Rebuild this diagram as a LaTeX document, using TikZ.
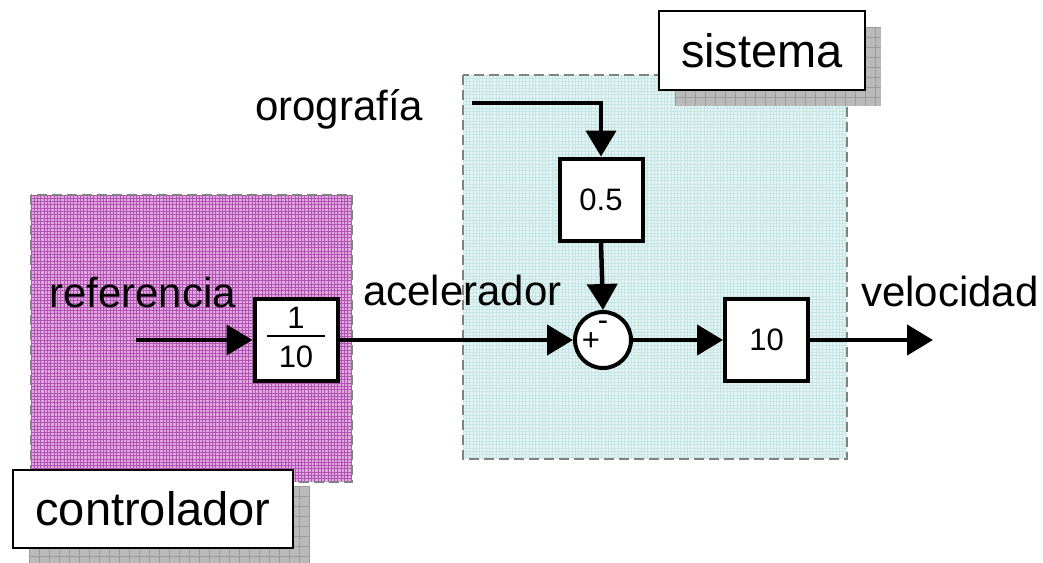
\documentclass[tikz,border=0pt]{standalone}
\usepackage{fontspec}
\setmainfont{Liberation Sans}
\usetikzlibrary{arrows.meta}
\definecolor{ctrlfill}{RGB}{224,170,224}
\definecolor{ctrlline}{RGB}{178,82,178}
\definecolor{sysfill}{RGB}{228,244,244}
\definecolor{sysline}{RGB}{198,229,229}
\definecolor{shadowgray}{RGB}{186,186,186}
\definecolor{shadowline}{RGB}{155,155,155}
\definecolor{framegray}{RGB}{130,130,130}
\newcommand\fsz[1]{\fontsize{#1pt}{#1pt}\selectfont}

\begin{document}
\begin{tikzpicture}[x=1pt,y=-1pt,
  region/.style={draw=framegray, line width=2pt, dash pattern=on 10pt off 5pt},
  block/.style={draw, line width=4pt, fill=white, inner sep=0pt,
    minimum width=83pt, minimum height=82pt, font=\fsz{31}},
  tag/.style={draw, line width=2pt, fill=white, inner sep=0pt, font=\fsz{47}},
  sig/.style={line width=4.5pt, -{Triangle[length=26pt,width=30pt]}},
  lbl/.style={inner sep=0pt, anchor=base west, font=\fsz{42}},
  sign/.style={inner sep=0pt, font=\fsz{31}},
  shade/.style={fill=shadowgray},
  shadegrid/.style={draw=shadowline, line width=0.6pt, step=10pt},
]
\useasboundingbox (0,0) rectangle (1043,562);

% shaded areas of the two subsystems, with a fine woven texture
\fill[ctrlfill] (31,195) rectangle (352,482);
\draw[ctrlline, line width=0.9pt, step=3.3pt, shift={(31,195)}] (0,0) grid (321,287);
\fill[sysfill] (463,75) rectangle (847,459);
\draw[sysline, line width=0.8pt, step=3.3pt, shift={(463,75)}] (0,0) grid (384,384);

% signal labels
\node[lbl] (tref) at (49,307) {referencia};
\node[lbl] (tacc) at (363,305) {acelerador};
\node[lbl] (toro) at (255,120) {orografía};
\node[lbl] (tvel) at (861,306) {velocidad};

% dashed frames
\draw[region] (31,195) rectangle (352,482);
\draw[region] (463,75) rectangle (847,459);

% drop shadows of the subsystem tags
\fill[shade] (29,486) rectangle (309,564);
\draw[shadegrid, shift={(29,486)}] (0,0) grid (280,78);
\fill[shade] (675,27) rectangle (881,106);
\draw[shadegrid, shift={(675,27)}] (0,0) grid (206,79);

% subsystem tags
\node[tag, minimum width=280pt, minimum height=78pt] (ctl) at (153,509) {controlador};
\node[tag, minimum width=206pt, minimum height=79pt] (sys) at (762,50.5) {sistema};

% blocks
\node[block] (kc) at (296,340) {};
\node[sign] (knum) at (296,318) {1};
\node[sign] (kden) at (296,357) {10};
\draw[line width=1.5pt] ([xshift=-29pt]kc.center) ++(0,-4) -- ++(58,0);

\node[block] (g05) at (601,199.5) {0.5};
\node[circle, draw, line width=4pt, fill=white, minimum size=56pt, inner sep=0pt] (sum) at (603,340) {};
\node[sign, anchor=base] (splus) at (591,350) {+};
\node[sign, anchor=base] (sminus) at (603,330) {-};
\node[block] (g10) at (766.5,340) {10};

% signal paths
\coordinate (refin) at (136,340);
\coordinate (oroin) at (472,103);
\coordinate (velout) at (933,340);

\draw[sig] (refin) -- (kc.west);
\draw[sig] (kc.east) -- (sum.west);
\draw[sig] (oroin) -| (g05.north);
\draw[sig] (g05.south) -- (sum.north);
\draw[sig] (sum.east) -- (g10.west);
\draw[sig] (g10.east) -- (velout);
\end{tikzpicture}
\end{document}
